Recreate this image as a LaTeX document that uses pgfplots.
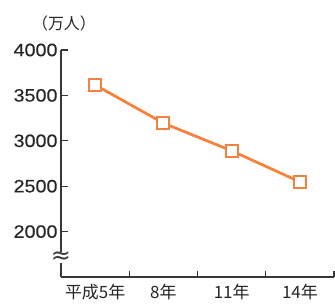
\documentclass[border=0pt]{standalone}
\usepackage{fontspec}
\setmainfont{Liberation Sans}[FakeStretch=1.1, FakeBold=0.4]
\newfontfamily\cjk{Noto Sans CJK JP}
\newfontfamily\dejavu{DejaVu Sans}
\usepackage{pgfplots}
\pgfplotsset{compat=1.18}
\definecolor{lineorange}{RGB}{245,130,62}
\definecolor{axisgray}{RGB}{55,55,55}
\begin{document}
\begin{tikzpicture}
\begin{axis}[
  scale only axis,
  width=273bp, height=227bp,
  at={(0,0)}, anchor=south west,
  xmin=-0.5, xmax=3.5,
  ymin=1500, ymax=4000,
  axis lines*=left,
  axis line style={axisgray, line width=1.6pt},
  xtick={0,1,2,3},
  xticklabels={平成5年,8年,11年,14年},
  xticklabel style={font=\cjk\fontsize{17}{17}\selectfont, text=black!85, yshift=-4bp},
  major x tick style={draw=none},
  minor xtick={0.5,1.5,2.5,3.5},
  minor x tick style={axisgray, line width=1.3pt},
  minor tick length=6bp,
  ytick={2000,2500,3000,3500,4000},
  yticklabel style={font=\fontsize{18}{18}\selectfont, text=black!85, xshift=0bp},
  major y tick style={axisgray, line width=1.3pt},
  major tick length=7bp,
  tick align=inside,
  /pgf/number format/assume math mode=true,
  /pgf/number format/1000 sep={},
  clip=false,
]
\addplot[lineorange, line width=2.8pt, mark=square*, mark size=6bp,
  mark options={fill=white, draw=lineorange, line width=1.9pt, solid}]
  coordinates {(0,3615) (1,3195) (2,2890) (3,2548)};
\node[fill=white, inner sep=0pt, text=axisgray, font=\dejavu\fontsize{24}{24}\selectfont]
  at (axis cs:-0.5,1715) {≈};
\node[font=\cjk\fontsize{16}{16}\selectfont, text=black!85]
  at ([xshift=3bp,yshift=27bp]rel axis cs:0,1) {（万人）};
\end{axis}
\path[use as bounding box] (-61bp,-28bp) rectangle (274bp,277bp);
\end{tikzpicture}
\end{document}
